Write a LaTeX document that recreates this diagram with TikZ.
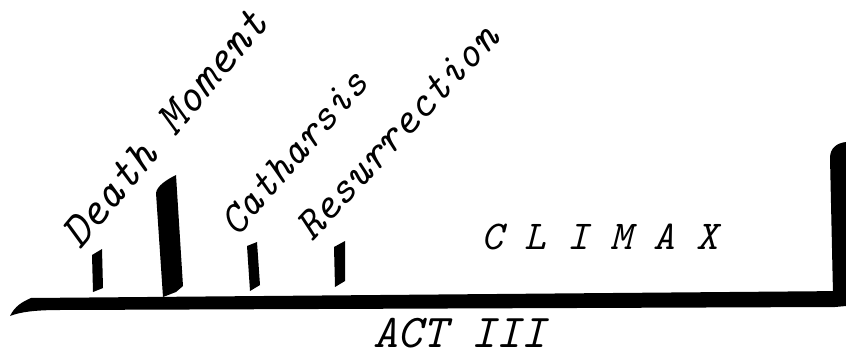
\documentclass[tikz,border=0pt]{standalone}
\usepackage{fontspec}
\tikzset{
  ink/.style={fill=black, draw=none},
  label/.style={inner sep=0pt, outer sep=0pt, text=black},
}
\newcommand{\handsz}[1]{\ttfamily\itshape\fontsize{#1}{#1}\selectfont}
\begin{document}
\begin{tikzpicture}[x=1pt, y=-1pt]
\useasboundingbox (0,0) rectangle (846,358);
% baseline
\fill[ink] (10,316) .. controls (15,306) and (22,302) .. (31,298) -- (846,291) -- (846,306) -- (835,307) -- (60,310) .. controls (35,310) and (20,312) .. (10,316) -- cycle;
% right wall
\fill[ink] (833,294) -- (830,158) .. controls (830,148) and (837,143) .. (846,142) -- (846,300) -- cycle;
% bars
\fill[ink] (92,255) -- (102,249) -- (103,288) -- (93,292) -- cycle;
\fill[ink] (156,193) .. controls (157,186) and (166,180) .. (176,175) -- (183,286) -- (176,292) -- (163,297) -- cycle;
\fill[ink] (247,246) -- (257,242) -- (260,285) -- (250,291) -- cycle;
\fill[ink] (334,247) -- (345,241) -- (345,281) -- (335,287) -- cycle;
% labels
\node[label, anchor=base west, rotate=50, font=\handsz{47}] (death) at (80,251) {Death Moment};
\node[label, anchor=base west, rotate=49, font=\handsz{43}] (cath) at (237,238) {Catharsis};
\node[label, anchor=base west, rotate=47, font=\handsz{44}] (res) at (312,242) {Resurrection};
\node[label, anchor=base west, font=\handsz{41}] (climax) at (481,250) {C L I M A X};
\node[label, anchor=base west, font=\handsz{47}] (act) at (373,347) {ACT III};
\end{tikzpicture}
\end{document}
